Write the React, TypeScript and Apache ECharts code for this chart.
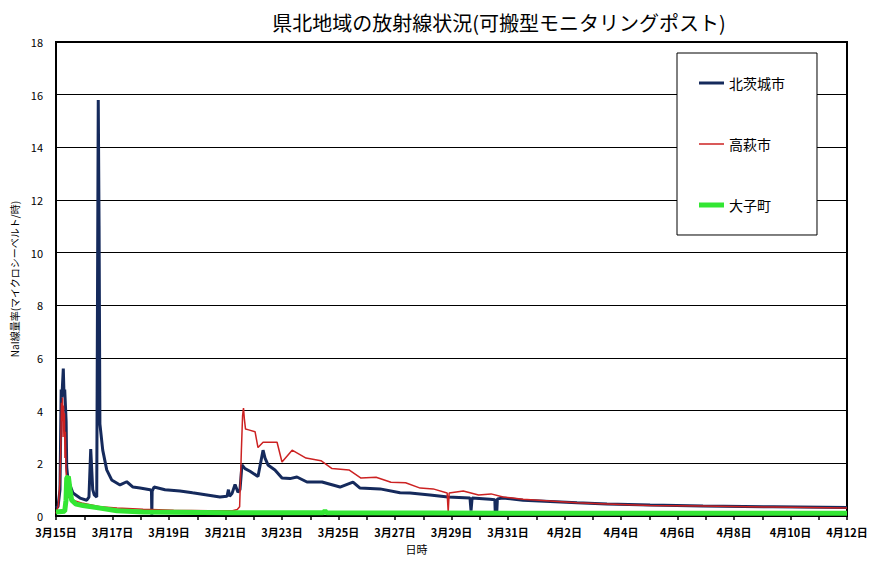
import React, { useEffect, useRef } from "react";
import * as echarts from "echarts";

// hours since 3/15 00:00 -> NaI dose rate (μSv/h)
const kitaibarakiData: [number, number][] = [
  [0, 0.3], [1.7, 0.35], [3.4, 1.0], [4.4, 4.8], [5.0, 4.5], [6.2, 5.6], [6.8, 4.6], [7.4, 4.8],
  [8.2, 4.0], [8.6, 3.6], [9.1, 1.86], [10.2, 1.37], [14.4, 0.87], [20.4, 0.68], [26.1, 0.6],
  [28, 0.72], [29.5, 2.54], [31.2, 1.0], [32.5, 0.8], [34.6, 0.72], [35.9, 15.8], [36.6, 11.0],
  [37.3, 3.5], [39.7, 2.5], [43.1, 1.75], [47.3, 1.37], [54.4, 1.18], [60.1, 1.3], [65.4, 1.1],
  [71.4, 1.06], [79.9, 1.0], [81.1, 0.95], [81.4, 0.05], [81.7, 0.95], [83.3, 1.1], [92.6, 1.0],
  [105.3, 0.95], [116, 0.88], [128.3, 0.8], [139.3, 0.72], [145.3, 0.75], [146.5, 1.0],
  [147.5, 0.75], [149.5, 0.85], [152.1, 1.2], [154.6, 0.9], [156.3, 1.0], [158, 1.94],
  [160.6, 1.8], [164.8, 1.7], [171.6, 1.5], [175.9, 2.5], [177.6, 2.2], [180.1, 1.94],
  [186, 1.75], [192, 1.44], [198.8, 1.42], [204.7, 1.48], [213.2, 1.29], [226, 1.29],
  [241.3, 1.1], [252.3, 1.29], [258.3, 1.06], [275.3, 1.03], [292.3, 0.88], [300.8, 0.87],
  [317.7, 0.8], [333, 0.72], [351.7, 0.68], [352.6, 0.2], [353.5, 0.68], [368.7, 0.64],
  [372.8, 0.62], [373.2, 0.1], [373.8, 0.6], [374.4, 0.1], [375, 0.65], [379.8, 0.68],
  [396.8, 0.6], [419.7, 0.55], [442.6, 0.5], [468.1, 0.46], [504.7, 0.42], [549.7, 0.38],
  [609.1, 0.35], [672, 0.32],
];

const takahagiData: [number, number][] = [
  [0, 0.1], [2, 0.4], [3.2, 1.2], [4, 2.5], [4.6, 4.3], [5.0, 3.6], [5.6, 4.5], [6.0, 3.0],
  [6.4, 4.2], [6.8, 3.3], [7.2, 3.9], [7.6, 2.2], [8.0, 3.2], [8.5, 1.8], [9.2, 1.2],
  [10.4, 0.72], [14.4, 0.6], [22.9, 0.48], [37.4, 0.35], [51.8, 0.3], [74, 0.26], [100, 0.22],
  [130, 0.2], [150, 0.2], [154, 0.25], [156, 0.35], [157.5, 2.5], [158.5, 3.8], [159.3, 4.1],
  [160, 3.7], [161, 3.3], [163.7, 3.27], [169.1, 3.2], [171.6, 2.6], [175.9, 2.8], [187.8, 2.8],
  [192, 2.05], [200.6, 2.5], [212.4, 2.2], [225.1, 2.1], [234.5, 1.8], [248.9, 1.75],
  [259.1, 1.44], [271.9, 1.47], [284.6, 1.28], [297, 1.26], [309.4, 1.06], [320.4, 1.03],
  [332.3, 0.87], [333.2, 0.15], [334, 0.87], [346, 0.95], [359, 0.8], [369.6, 0.84],
  [379.8, 0.72], [396.8, 0.64], [419.7, 0.57], [442.6, 0.5], [468.1, 0.46], [504.7, 0.4],
  [549.7, 0.38], [609, 0.34], [672, 0.3],
];

const daigoData: [number, number][] = [
  [0, 0.15], [7.4, 0.18], [8.5, 0.6], [9.1, 1.44], [10.5, 1.5], [11.9, 1.0], [13.3, 0.6],
  [17, 0.45], [22.9, 0.4], [37.4, 0.3], [51.8, 0.2], [74, 0.15], [150, 0.12], [227, 0.12],
  [228.5, 0.2], [230, 0.12], [320, 0.11], [400, 0.1], [500, 0.1], [672, 0.1],
];

const xLabels = [
  "3月15日", "3月17日", "3月19日", "3月21日", "3月23日", "3月25日", "3月27日", "3月29日",
  "3月31日", "4月2日", "4月4日", "4月6日", "4月8日", "4月10日", "4月12日",
];

const seriesNames = ["北茨城市", "高萩市", "大子町"];
const FONT = "'Noto Sans CJK JP', 'Noto Sans', sans-serif";

const lineIcon = (h: number) => `path://M0,0H25V${h}H0Z`;

export default function App() {
  const ref = useRef<HTMLDivElement>(null);
  useEffect(() => {
    if (!ref.current) return;
    const chart = echarts.init(ref.current, undefined, { renderer: "svg" });
    chart.setOption({
      animation: false,
      backgroundColor: "#ffffff",
      textStyle: { fontFamily: FONT, color: "#000" },
      title: {
        text: "県北地域の放射線状況(可搬型モニタリングポスト)",
        left: 494,
        top: 7,
        textAlign: "center",
        textStyle: { fontSize: 20, fontWeight: "normal", color: "#000", fontFamily: FONT },
      },
      legend: {
        orient: "vertical",
        left: 677,
        top: 53,
        padding: [23, 32, 23, 22],
        itemGap: 47,
        itemWidth: 25,
        itemHeight: 14,
        symbolKeepAspect: true,
        backgroundColor: "#ffffff",
        borderColor: "#000",
        borderWidth: 1,
        borderRadius: 0,
        textStyle: { fontSize: 14, color: "#000", fontFamily: FONT },
        data: [
          { name: seriesNames[0], icon: lineIcon(3) },
          { name: seriesNames[1], icon: lineIcon(1.5) },
          { name: seriesNames[2], icon: lineIcon(5) },
        ],
      },
      grid: {
        left: 56,
        right: 30,
        top: 42,
        bottom: 53,
        show: true,
        borderColor: "#000",
        borderWidth: 2,
        backgroundColor: "transparent",
      },
      xAxis: {
        type: "value",
        min: 0,
        max: 672,
        interval: 24,
        name: "日時",
        nameLocation: "middle",
        nameGap: 27,
        nameTextStyle: { fontSize: 11, color: "#000", padding: [0, 70, 0, 0], fontFamily: FONT },
        axisLine: { show: true, lineStyle: { color: "#000", width: 2 } },
        axisTick: { show: true, inside: false, length: 4, lineStyle: { color: "#000", width: 1.5 } },
        splitLine: { show: false },
        axisLabel: {
          margin: 10,
          fontSize: 11,
          fontWeight: "bold",
          color: "#000",
          fontFamily: FONT,
          showMaxLabel: true,
          formatter: (v: number) => {
            const d = Math.round(v / 24);
            return d % 2 === 0 ? xLabels[d / 2] ?? "" : "";
          },
        },
      },
      yAxis: {
        type: "value",
        min: 0,
        max: 18,
        interval: 2,
        name: "NaI線量率(マイクロシーベルト/時)",
        nameLocation: "middle",
        nameGap: 30,
        nameTextStyle: { fontSize: 10, color: "#000", fontFamily: FONT },
        axisLine: { show: true, lineStyle: { color: "#000", width: 1.5 } },
        axisTick: { show: false },
        splitLine: { show: true, lineStyle: { color: "#000", width: 1 } },
        axisLabel: { margin: 13, fontSize: 11, color: "#000", fontFamily: FONT },
      },
      series: [
        {
          name: seriesNames[0],
          type: "line",
          data: kitaibarakiData,
          symbol: "none",
          lineStyle: { color: "#152a5c", width: 3 },
          itemStyle: { color: "#152a5c" },
          z: 2,
        },
        {
          name: seriesNames[1],
          type: "line",
          data: takahagiData,
          symbol: "none",
          lineStyle: { color: "#cc2222", width: 1.5 },
          itemStyle: { color: "#cc2222" },
          z: 3,
        },
        {
          name: seriesNames[2],
          type: "line",
          data: daigoData,
          symbol: "none",
          lineStyle: { color: "#33e633", width: 5 },
          itemStyle: { color: "#33e633" },
          z: 4,
        },
      ],
    });
    return () => chart.dispose();
  }, []);
  return (
    <div
      ref={ref}
      style={{ position: "fixed", left: 0, top: 0, width: 877, height: 569 }}
    />
  );
}
